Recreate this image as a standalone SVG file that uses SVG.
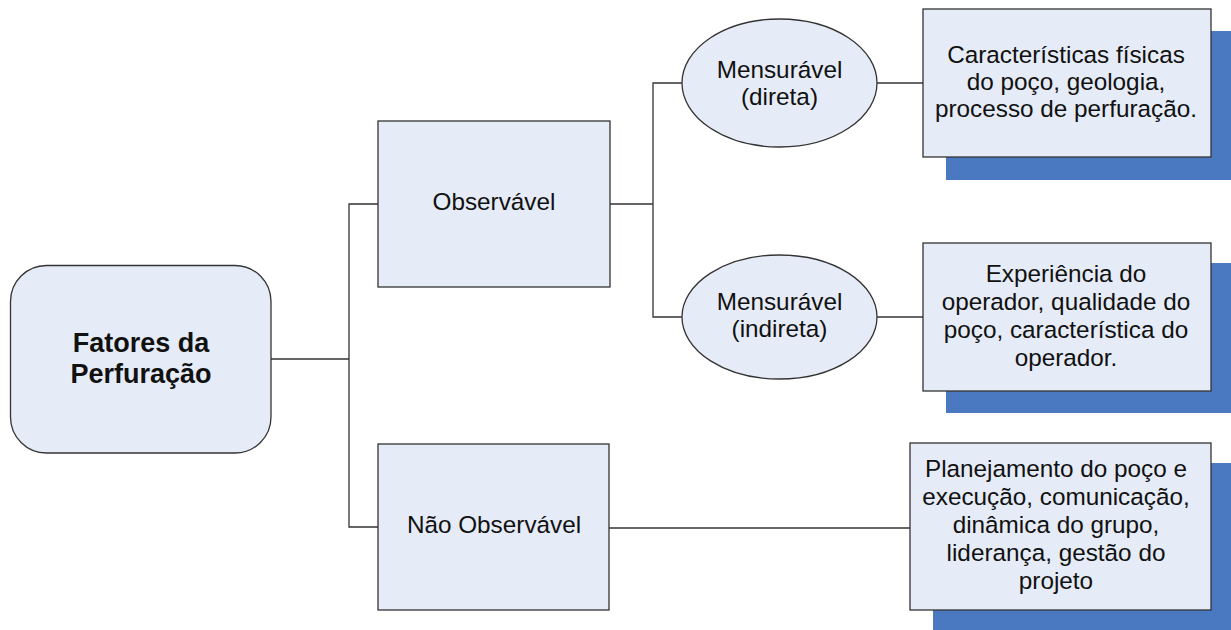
<svg xmlns="http://www.w3.org/2000/svg" width="1231" height="630" viewBox="0 0 1231 630">
  <style>
    .node { fill: #e6ecf7; stroke: #333333; stroke-width: 1.3; }
    .shadow { fill: #4a79c1; stroke: none; }
    .wire { fill: none; stroke: #333333; stroke-width: 1.3; }
    text { font-family: "Liberation Sans", Arial, Helvetica, sans-serif; fill: #111111; text-anchor: middle; }
    .lbl { font-size: 24.3px; }
    .root { font-size: 27px; font-weight: bold; }
  </style>
  <rect width="1231" height="630" fill="#ffffff"/>

  <!-- connectors -->
  <g id="connectors">
    <polyline class="wire" points="271,359 349,359"/>
    <polyline class="wire" points="378,204 349,204 349,527 378,527"/>
    <polyline class="wire" points="610,204 653,204"/>
    <polyline class="wire" points="682,83 653,83 653,317 682,317"/>
    <line class="wire" x1="877" y1="83" x2="923" y2="83"/>
    <line class="wire" x1="877" y1="317" x2="923" y2="317"/>
    <line class="wire" x1="609" y1="528" x2="910" y2="528"/>
  </g>

  <!-- root -->
  <g id="fatores">
    <rect class="node" x="10.5" y="265.5" width="260.5" height="187.5" rx="36" ry="36"/>
    <text class="root" x="141" y="352">Fatores da</text>
    <text class="root" x="141" y="383">Perfuração</text>
  </g>

  <g id="observavel">
    <rect class="node" x="378" y="121" width="232" height="166"/>
    <text class="lbl" x="494" y="210">Observável</text>
  </g>

  <g id="nao-observavel">
    <rect class="node" x="378" y="444" width="231" height="166"/>
    <text class="lbl" x="494" y="533">Não Observável</text>
  </g>

  <g id="mensuravel-direta">
    <ellipse class="node" cx="779.5" cy="83" rx="97.5" ry="64"/>
    <text class="lbl" x="779.5" y="78">Mensurável</text>
    <text class="lbl" x="779.5" y="105">(direta)</text>
  </g>

  <g id="mensuravel-indireta">
    <ellipse class="node" cx="779.5" cy="317" rx="97.5" ry="62"/>
    <text class="lbl" x="779.5" y="310">Mensurável</text>
    <text class="lbl" x="779.5" y="337">(indireta)</text>
  </g>

  <g id="caracteristicas">
    <rect class="shadow" x="946" y="31" width="288" height="149"/>
    <rect class="node" x="923" y="9" width="288" height="148"/>
    <text class="lbl" x="1066" y="63">Características físicas</text>
    <text class="lbl" x="1066" y="90">do poço, geologia,</text>
    <text class="lbl" x="1066" y="117">processo de perfuração.</text>
  </g>

  <g id="experiencia">
    <rect class="shadow" x="946" y="263" width="288" height="150"/>
    <rect class="node" x="923" y="243" width="288" height="148"/>
    <text class="lbl" x="1066" y="282">Experiência do</text>
    <text class="lbl" x="1066" y="310">operador, qualidade do</text>
    <text class="lbl" x="1066" y="338">poço, característica do</text>
    <text class="lbl" x="1066" y="366">operador.</text>
  </g>

  <g id="planejamento">
    <rect class="shadow" x="933" y="463" width="301" height="170"/>
    <rect class="node" x="910" y="443" width="301" height="167"/>
    <text class="lbl" x="1056" y="477">Planejamento do poço e</text>
    <text class="lbl" x="1056" y="505">execução, comunicação,</text>
    <text class="lbl" x="1056" y="533">dinâmica do grupo,</text>
    <text class="lbl" x="1056" y="561">liderança, gestão do</text>
    <text class="lbl" x="1056" y="589">projeto</text>
  </g>
</svg>
